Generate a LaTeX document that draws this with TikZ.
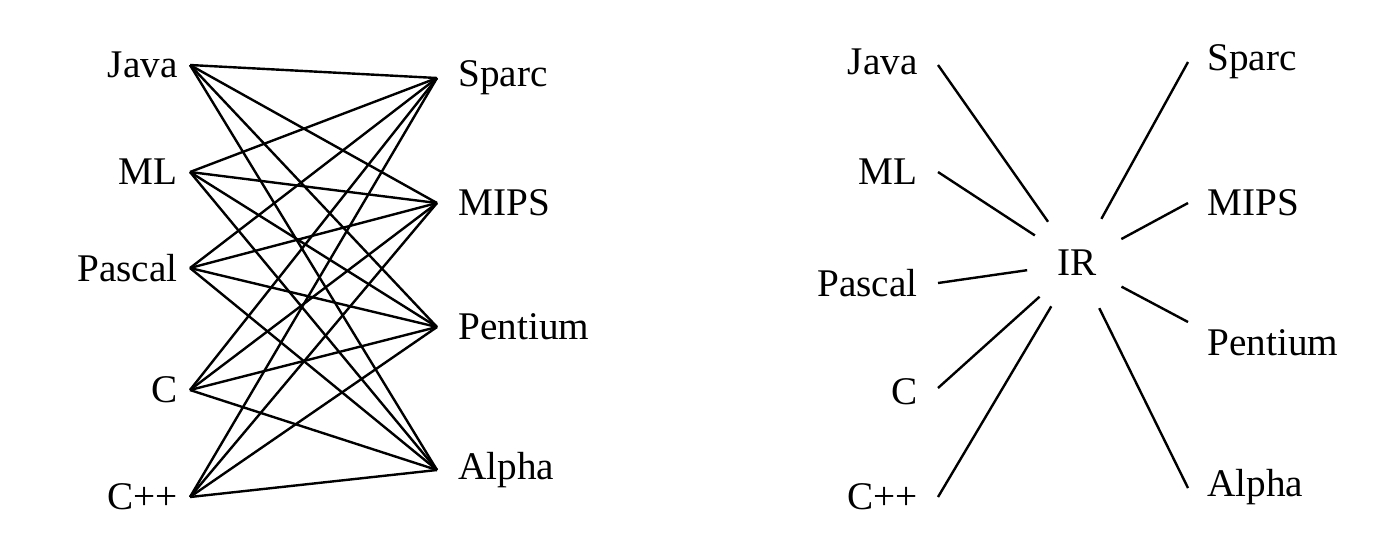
\documentclass[tikz,border=0pt]{standalone}
\usepackage{fontspec}
\setmainfont{Liberation Serif}
\begin{document}
\begin{tikzpicture}[x=0.5pt,y=-0.5pt,
  lab/.style={font=\fontsize{19.6}{22}\selectfont,inner sep=0pt},
  ln/.style={line width=1.2pt}]
\useasboundingbox (0,0) rectangle (1400,548);
% left graph
\foreach \n/\t/\y in {lj/Java/65,lm/ML/172,lp/Pascal/268,lc/C/390,lcc/C++/497}{
  \coordinate (\n) at (190,\y);
  \node[lab,anchor=east] (\n t) at (178,\y) {\t};}
\foreach \n/\t/\y in {rs/Sparc/78,rm/MIPS/203,rp/Pentium/327,ra/Alpha/470}{
  \coordinate (\n) at (437,\y);
  \node[lab,anchor=west] (\n t) at (458,\y) {\t};}
\foreach \a in {lj,lm,lp,lc,lcc}
  \foreach \b in {rs,rm,rp,ra}
    \draw[ln] (\a) -- (\b);
% right graph
\node[lab,circle,minimum size=50,inner sep=0pt] (ir) at (1077,263) {IR};
\foreach \n/\t/\y/\ly in {j/Java/65/62,m/ML/172/172,p/Pascal/283/283,c/C/388/392,cc/C++/497/497}{
  \coordinate (e\n) at (938,\y);
  \node[lab,anchor=east] (t\n) at (918,\ly) {\t};
  \draw[ln] (e\n) -- (ir);}
\foreach \n/\t/\y/\ly in {s/Sparc/62/62,mi/MIPS/203/203,pe/Pentium/322/343,al/Alpha/488/487}{
  \coordinate (f\n) at (1188,\y);
  \node[lab,anchor=west] (u\n) at (1207,\ly) {\t};
  \draw[ln] (f\n) -- (ir);}
\end{tikzpicture}
\end{document}
